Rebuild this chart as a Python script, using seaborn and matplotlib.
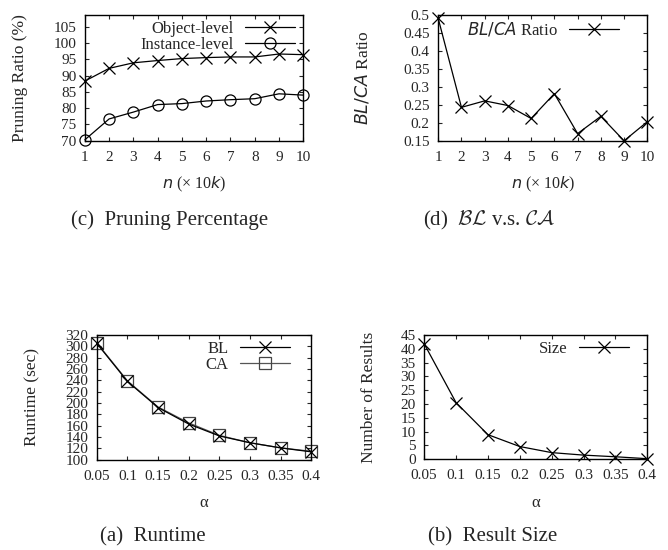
import numpy as np
import pandas as pd
import matplotlib
matplotlib.use("Agg")
import matplotlib.pyplot as plt
import seaborn as sns

# values
n_values = [1, 2, 3, 4, 5, 6, 7, 8, 9, 10]
object_level = [88.3, 92.2, 93.9, 94.6, 95.2, 95.5, 95.7, 95.7, 96.6, 96.4]
instance_level = [70.3, 76.7, 78.8, 81.1, 81.4, 82.2, 82.6, 82.9, 84.4, 84.0]
bl_ca_ratio = [0.49, 0.243, 0.261, 0.248, 0.212, 0.281, 0.17, 0.218, 0.15, 0.203]

alpha_values = [0.05, 0.1, 0.15, 0.2, 0.25, 0.3, 0.35, 0.4]
alpha_labels = ["0.05", "0.1", "0.15", "0.2", "0.25", "0.3", "0.35", "0.4"]
runtime_bl = [305, 238, 192, 163, 142, 130, 121, 114]
runtime_ca = [306, 239, 193, 165, 143, 130, 121, 115]
result_size = [41.8, 20.5, 8.9, 4.6, 2.4, 1.5, 0.9, 0.2]

sns.set_style("ticks")
plt.rcParams['font.family'] = ['Liberation Serif', 'DejaVu Serif']
plt.rcParams['font.size'] = 11
plt.rcParams['xtick.direction'] = 'in'
plt.rcParams['ytick.direction'] = 'in'
plt.rcParams['xtick.top'] = True
plt.rcParams['ytick.right'] = True
plt.rcParams['axes.linewidth'] = 1.0

fig = plt.figure(figsize=(6.68, 5.5), dpi=100)

ax_c = fig.add_axes([0.127, 0.744, 0.327, 0.229])
ax_d = fig.add_axes([0.656, 0.744, 0.313, 0.229])
ax_a = fig.add_axes([0.145, 0.164, 0.321, 0.227])
ax_b = fig.add_axes([0.635, 0.165, 0.334, 0.226])

common = dict(linewidth=0.9, markeredgewidth=0.9, clip_on=False)
n_lab = r"$\mathit{n}$ (× 10$\mathit{k}$)"

# (c) pruning percentage
df_c = pd.DataFrame({"n": n_values, "obj": object_level, "inst": instance_level})
sns.lineplot(data=df_c, x="n", y="obj", ax=ax_c, color="black", marker="x",
             markersize=9, markeredgecolor="black", label="Object-level", **common)
sns.lineplot(data=df_c, x="n", y="inst", ax=ax_c, color="black", marker="o",
             markersize=8, markerfacecolor="none", markeredgecolor="black",
             label="Instance-level", **common)
ax_c.set_xlim(1, 10)
ax_c.set_ylim(70, 108.6)
ax_c.set_xticks(n_values)
ax_c.set_yticks(np.arange(70, 106, 5))
ax_c.set_ylabel("Pruning Ratio (%)", fontsize=12.5)
ax_c.set_xlabel(n_lab, fontsize=11.5, math_fontfamily='dejavusans')

# (d) BL vs CA
df_d = pd.DataFrame({"n": n_values, "ratio": bl_ca_ratio})
sns.lineplot(data=df_d, x="n", y="ratio", ax=ax_d, color="black", marker="x",
             markersize=9, markeredgecolor="black", label=r"$\mathit{BL/CA}$ Ratio", **common)
ax_d.set_xlim(1, 10)
ax_d.set_ylim(0.15, 0.5)
ax_d.set_xticks(n_values)
ax_d.set_yticks([0.15, 0.2, 0.25, 0.3, 0.35, 0.4, 0.45, 0.5])
ax_d.set_yticklabels(["0.15", "0.2", "0.25", "0.3", "0.35", "0.4", "0.45", "0.5"])
ax_d.set_ylabel(r"$\mathit{BL/CA}$ Ratio", fontsize=12.5, math_fontfamily='dejavusans')
ax_d.set_xlabel(n_lab, fontsize=11.5, math_fontfamily='dejavusans')

# (a) runtime
df_a = pd.DataFrame({"alpha": alpha_values, "bl": runtime_bl, "ca": runtime_ca})
sns.lineplot(data=df_a, x="alpha", y="ca", ax=ax_a, color="#555555", marker="s",
             markersize=8, markerfacecolor="none", markeredgecolor="#444444",
             label="CA", **common)
sns.lineplot(data=df_a, x="alpha", y="bl", ax=ax_a, color="black", marker="x",
             markersize=9, markeredgecolor="black", label="BL", **common)
ax_a.set_xlim(0.05, 0.4)
ax_a.set_ylim(100, 320)
ax_a.set_xticks(alpha_values)
ax_a.set_xticklabels(alpha_labels)
ax_a.set_yticks(np.arange(100, 321, 20))
ax_a.set_ylabel("Runtime (sec)", fontsize=12.5)
ax_a.set_xlabel("α", fontsize=12)

# (b) result size
df_b = pd.DataFrame({"alpha": alpha_values, "size": result_size})
sns.lineplot(data=df_b, x="alpha", y="size", ax=ax_b, color="black", marker="x",
             markersize=9, markeredgecolor="black", label="Size", **common)
ax_b.set_xlim(0.05, 0.4)
ax_b.set_ylim(0, 45)
ax_b.set_xticks(alpha_values)
ax_b.set_xticklabels(alpha_labels)
ax_b.set_yticks(np.arange(0, 46, 5))
ax_b.set_ylabel("Number of Results", fontsize=12.5)
ax_b.set_xlabel("α", fontsize=12)

# label positions and legend anchors (axes fractions)
ylabel_x = {ax_c: -0.26, ax_d: -0.32, ax_a: -0.265, ax_b: -0.21}
xlabel_y = {ax_c: -0.27, ax_d: -0.27, ax_a: -0.28, ax_b: -0.29}
legend_anchor = {ax_c: (0.963, 0.955), ax_d: (0.866, 0.955),
                 ax_a: (0.902, 0.955), ax_b: (0.919, 0.955)}

for ax in [ax_c, ax_d, ax_a, ax_b]:
    ax.tick_params(labelsize=11, length=3, width=0.8)
    ax.tick_params(axis='x', pad=7)
    ax.tick_params(axis='y', pad=6)
    ax.grid(False)
    for s in ax.spines.values():
        s.set_visible(True)
        s.set_color("black")
    ax.yaxis.set_label_coords(ylabel_x[ax], 0.5)
    ax.xaxis.set_label_coords(0.5, xlabel_y[ax])
    handles, labels = ax.get_legend_handles_labels()
    if ax is ax_a:
        handles, labels = handles[::-1], labels[::-1]
    leg = ax.legend(handles, labels, loc="upper right", bbox_to_anchor=legend_anchor[ax],
                    frameon=False, markerfirst=False, handlelength=3.0,
                    borderaxespad=0, borderpad=0, labelspacing=0.0, handletextpad=0.7,
                    prop={'family': ['Liberation Serif'], 'size': 12})
    for t in leg.get_texts():
        t.set_math_fontfamily('dejavusans')

# sub-figure captions
fig.text(0.254, 0.600, "(c)  Pruning Percentage", ha="center", va="center", fontsize=15)
fig.text(0.732, 0.600, r"(d)  $\mathcal{BL}$ v.s. $\mathcal{CA}$", ha="center", va="center",
         fontsize=15, math_fontfamily='cm')
fig.text(0.229, 0.024, "(a)  Runtime", ha="center", va="center", fontsize=15)
fig.text(0.737, 0.024, "(b)  Result Size", ha="center", va="center", fontsize=15)

fig.savefig("out.png", dpi=100)
